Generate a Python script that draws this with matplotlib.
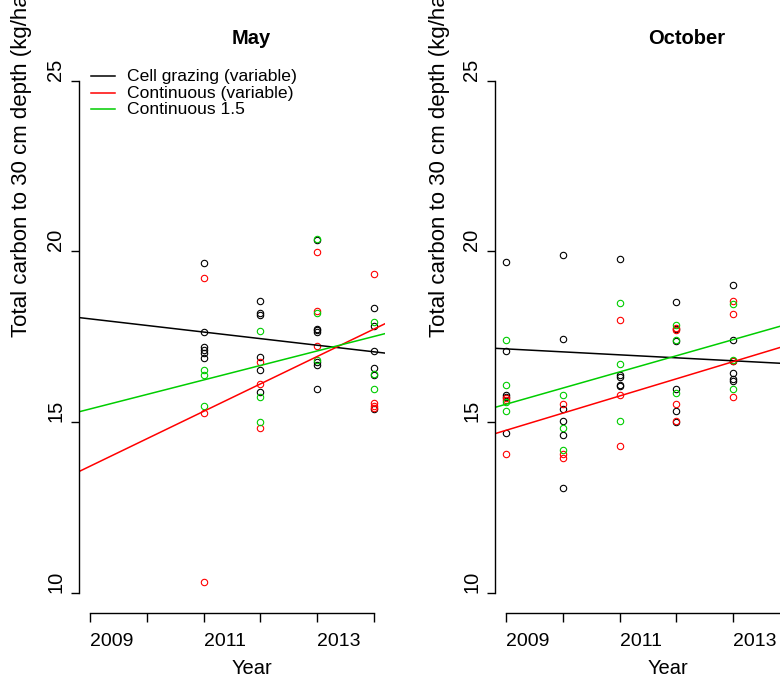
import matplotlib
matplotlib.use("Agg")
import matplotlib.pyplot as plt
from matplotlib.lines import Line2D

plt.rcParams['font.family'] = ['Liberation Sans', 'DejaVu Sans']

# ---------------- data ----------------
years_may = [2011, 2012, 2013, 2014]
years_oct = [2009, 2010, 2011, 2012, 2013]

may_cell = [[19.67, 17.63, 17.21, 17.12, 17.02, 16.87],
            [18.54, 18.18, 18.15, 16.90, 16.53, 15.88],
            [20.33, 17.73, 17.69, 17.64, 16.75, 16.68, 15.96],
            [18.34, 17.82, 17.07, 16.57, 16.37, 15.38]]
may_cont = [[19.21, 15.27, 10.31],
            [16.77, 16.10, 14.82],
            [19.99, 18.25, 17.24],
            [19.35, 15.55, 15.47, 15.41]]
may_c15 = [[16.52, 16.39, 15.48],
           [17.67, 15.73, 15.00],
           [20.36, 18.18, 16.81],
           [17.94, 16.40, 15.96]]

oct_cell = [[19.69, 17.07, 15.78, 15.74, 14.67],
            [19.90, 17.42, 15.38, 15.02, 14.62, 13.07],
            [19.79, 16.37, 16.33, 16.08, 16.06],
            [18.52, 17.73, 17.37, 15.97, 15.32, 15.00],
            [19.00, 17.40, 16.80, 16.44, 16.25, 16.21]]
oct_cont = [[15.69, 15.64, 14.07],
            [15.52, 14.05, 13.95],
            [18.00, 15.78, 14.30],
            [17.76, 17.70, 15.52, 15.02],
            [18.55, 18.17, 16.78, 15.74]]
oct_c15 = [[17.40, 16.09, 15.58, 15.32],
           [15.78, 14.84, 14.17],
           [18.50, 16.70, 15.03],
           [17.85, 17.40, 15.86],
           [18.46, 16.82, 15.96]]

# fitted trend lines: values at the two ends of the x range
line_x = [2008.8, 2014.2]
may_lines = {'cell': [18.06, 17.02], 'cont': [13.55, 17.88], 'c15': [15.30, 17.59]}
oct_lines = {'cell': [17.16, 16.69], 'cont': [14.66, 17.37], 'c15': [15.43, 17.98]}

legend_labels = ["Cell grazing (variable)", "Continuous (variable)", "Continuous 1.5"]
colors = {'cell': 'black', 'cont': '#FF0000', 'c15': '#00CD00'}
xticks = [2009, 2010, 2011, 2012, 2013, 2014]
xticklabels = ['2009', '', '2011', '', '2013', '']
yticks = [10, 15, 20, 25]

# ---------------- figure ----------------
W, H = 780, 680
fig = plt.figure(figsize=(W / 100, H / 100), dpi=100)


def px_axes(x0, x1, ytop, ybot):
    return fig.add_axes([x0 / W, 1 - ybot / H, (x1 - x0) / W, (ybot - ytop) / H])


def draw_panel(ax, years, cell, cont, c15, lines, title):
    for key, groups in (('cell', cell), ('cont', cont), ('c15', c15)):
        xs, ys = [], []
        for yr, vals in zip(years, groups):
            xs += [yr] * len(vals)
            ys += vals
        ax.plot(xs, ys, linestyle='none', marker='o', markersize=4.6,
                markerfacecolor='none', markeredgecolor=colors[key],
                markeredgewidth=0.8)
    for key in ('cell', 'cont', 'c15'):
        ax.plot(line_x, lines[key], color=colors[key], linewidth=1.1)
    ax.set_xlim(2008.8, 2014.2)
    ax.set_ylim(9.4, 25.6)
    for s in ('top', 'right'):
        ax.spines[s].set_visible(False)
    ax.spines['left'].set_bounds(10, 25)
    ax.spines['bottom'].set_bounds(2009, 2014)
    ax.spines['left'].set_linewidth(1.0)
    ax.spines['bottom'].set_linewidth(1.0)
    ax.set_xticks(xticks)
    ax.set_xticklabels(xticklabels, fontsize=14, ha='left')
    ax.set_yticks(yticks)
    ax.set_yticklabels([str(v) for v in yticks], fontsize=14.5, rotation=90,
                       va='bottom')
    ax.tick_params(axis='x', length=6.5, width=1.0, pad=7.5)
    ax.tick_params(axis='y', length=5.8, width=1.0, pad=4)
    ax.patch.set_alpha(0)
    # R-style anchored texts (start at the centre of the plot region)
    bb = ax.get_position()
    xc = (bb.x0 + bb.x1) / 2
    fig.text(xc, 1 - 38 / H, title, fontsize=14.5, fontweight='bold',
             ha='left', va='center')
    fig.text(xc, 1 - 668 / H, 'Year', fontsize=14.5, ha='left', va='center')


ax1 = px_axes(79, 385, 60.2, 613.2)
draw_panel(ax1, years_may, may_cell, may_cont, may_c15, may_lines, 'May')
ax2 = px_axes(495, 801, 60.2, 613.2)
draw_panel(ax2, years_oct, oct_cell, oct_cont, oct_c15, oct_lines, 'October')

ylab = 'Total carbon to 30 cm depth (kg/ha)'
for xpx in (22, 439):
    fig.text(xpx / W, 1 - 337 / H, ylab, fontsize=16, rotation=90,
             ha='center', va='bottom')

# legend (top-left of May panel, no box)
for i, (lab, key) in enumerate(zip(legend_labels, ('cell', 'cont', 'c15'))):
    ypx = 76 + i * 16.5
    fig.add_artist(Line2D([91 / W, 115 / W], [1 - ypx / H, 1 - ypx / H],
                          color=colors[key], linewidth=1.1,
                          transform=fig.transFigure))
    fig.text(127 / W, 1 - (ypx + 1) / H, lab, fontsize=12.6, ha='left',
             va='center')

fig.savefig('out.png', dpi=100)
